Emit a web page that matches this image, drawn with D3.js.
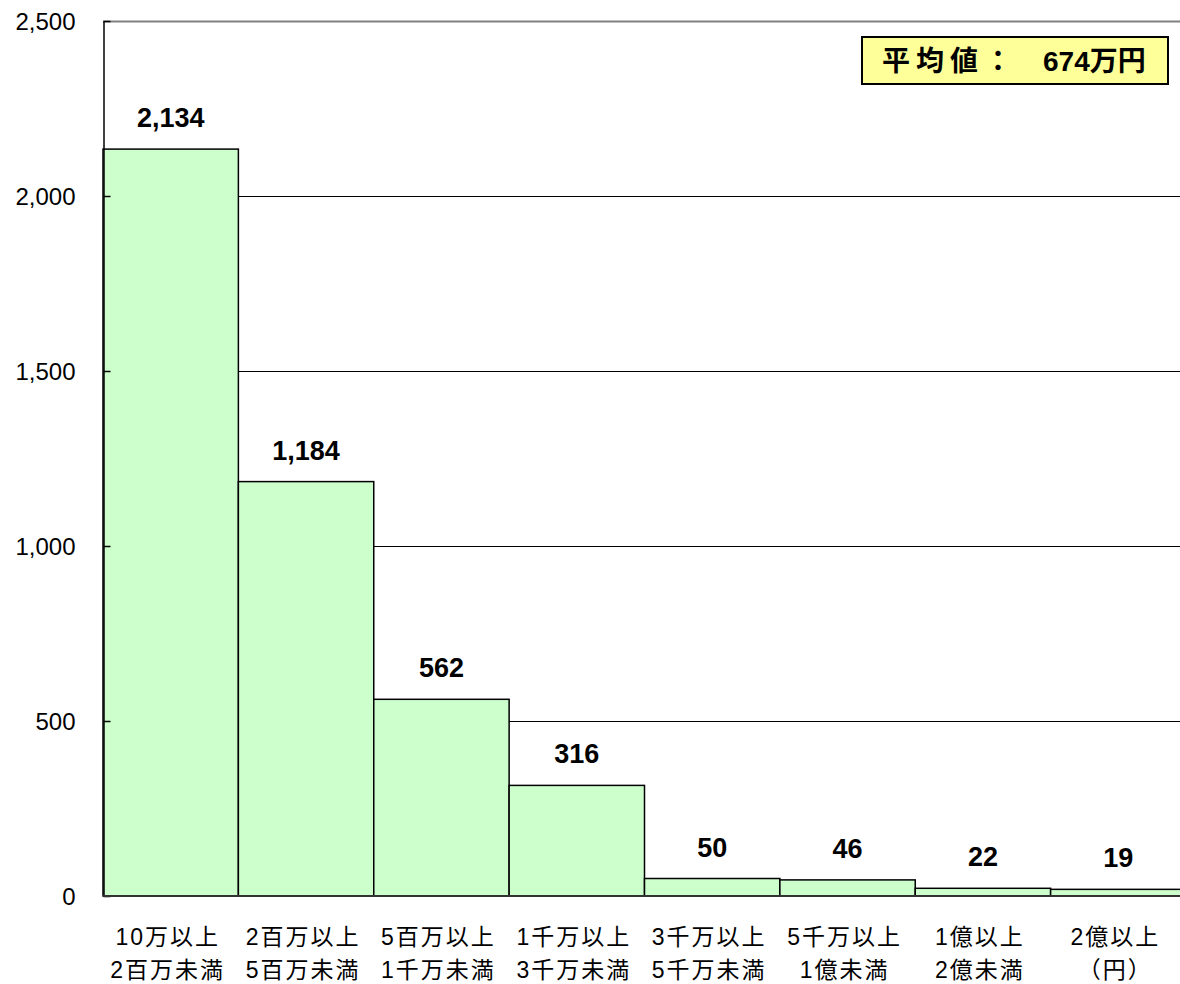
<!DOCTYPE html>
<html>
<head>
<meta charset="utf-8">
<script src="https://cdn.jsdelivr.net/npm/d3@7"></script>
<style>
  body { margin: 0; background: #fff; }
  text { font-family: "Liberation Sans", Arial, "Noto Sans CJK JP", sans-serif; }
</style>
</head>
<body>
<svg id="chart"></svg>
<script>
// data
const categories = ["c1", "c2", "c3", "c4", "c5", "c6", "c7", "c8"]
const labelTop = ["10万以上", "2百万以上", "5百万以上", "1千万以上", "3千万以上", "5千万以上", "1億以上", "2億以上"]
const labelBottom = ["2百万未満", "5百万未満", "1千万未満", "3千万未満", "5千万未満", "1億未満", "2億未満", "（円）"]
const counts = [2134, 1184, 562, 316, 50, 46, 22, 19]
const yTicks = [0, 500, 1000, 1500, 2000, 2500]
const avgLabel = "平均値："
const avgValue = "674万円"

const W = 1180, H = 984
const plot = { left: 103, right: 1186, top: 21, bottom: 896 }

const svg = d3.select("#chart").attr("width", W).attr("height", H)

const x = d3.scaleBand()
    .domain(categories)
    .range([plot.left, plot.right])
    .padding(0)

const y = d3.scaleLinear()
    .domain([0, 2500])
    .range([plot.bottom, plot.top])

const fmt = d3.format(",")

// gridlines
svg.append("g")
    .selectAll("line")
    .data(yTicks.filter(d => d > 0))
    .enter().append("line")
    .attr("x1", plot.left)
    .attr("x2", W)
    .attr("y1", d => y(d) + 0.5)
    .attr("y2", d => y(d) + 0.5)
    .style("stroke", d => d === 2500 ? "#808080" : "#000")
    .style("stroke-width", d => d === 2500 ? 2 : 1)

// bars
svg.append("g")
    .selectAll("rect")
    .data(counts)
    .enter().append("rect")
    .attr("x", (d, i) => x(categories[i]))
    .attr("y", d => y(d))
    .attr("width", x.bandwidth())
    .attr("height", d => y(0) - y(d))
    .style("fill", "#CCFFCC")
    .style("stroke", "#000")
    .style("stroke-width", 1.5)

// value labels
svg.append("g")
    .selectAll("text")
    .data(counts)
    .enter().append("text")
    .attr("x", (d, i) => x(categories[i]) + x.bandwidth() / 2)
    .attr("y", d => y(d) - 22)
    .attr("text-anchor", "middle")
    .style("font-size", "27px")
    .style("font-weight", "bold")
    .text(d => fmt(d))

// y axis
const yAxis = d3.axisLeft(y)
    .tickValues(yTicks)
    .tickFormat(fmt)
    .tickSizeInner(-7)
    .tickSizeOuter(0)
    .tickPadding(28)

const yg = svg.append("g")
    .attr("transform", `translate(${plot.left + 0.5},0)`)
    .call(yAxis)
yg.select(".domain").style("stroke", "#000").style("stroke-width", 1.5)
yg.selectAll(".tick line").style("stroke", "#000").style("stroke-width", 1.5)
yg.selectAll(".tick text")
    .style("font-size", "24px")
    .style("fill", "#000")
    .attr("dy", "0.35em")

// baseline
svg.append("line")
    .attr("x1", plot.left)
    .attr("x2", W)
    .attr("y1", y(0))
    .attr("y2", y(0))
    .style("stroke", "#333")
    .style("stroke-width", 2)

// x labels (two lines)
const xl = svg.append("g")
    .selectAll("text")
    .data(categories)
    .enter().append("text")
    .attr("text-anchor", "middle")
    .style("font-size", "23px")
    .style("letter-spacing", "2px")
xl.append("tspan")
    .attr("x", d => x(d) + x.bandwidth() / 2 - 3)
    .attr("y", 945)
    .text((d, i) => labelTop[i])
xl.append("tspan")
    .attr("x", d => x(d) + x.bandwidth() / 2 - 3)
    .attr("y", 978)
    .text((d, i) => labelBottom[i])

// average box
svg.append("rect")
    .attr("x", 862)
    .attr("y", 37)
    .attr("width", 306)
    .attr("height", 47)
    .style("fill", "#FFFF99")
    .style("stroke", "#000")
    .style("stroke-width", 2)

const avg = svg.append("text")
    .attr("y", 71)
    .style("font-size", "28px")
    .style("font-weight", "bold")
avg.append("tspan")
    .attr("x", 882)
    .style("letter-spacing", "6px")
    .text(avgLabel)
avg.append("tspan")
    .attr("x", 1043)
    .text(avgValue)
</script>
</body>
</html>
